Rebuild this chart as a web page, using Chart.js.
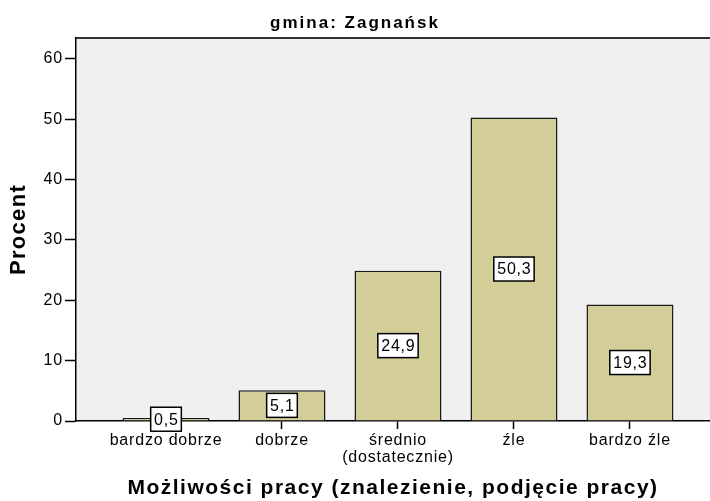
<!DOCTYPE html>
<html>
<head>
<meta charset="utf-8">
<script src="https://cdn.jsdelivr.net/npm/chart.js@4.4.0/dist/chart.umd.min.js"></script>
<style>
    html, body { margin: 0; padding: 0; background: #fff; overflow: hidden; }
</style>
</head>
<body>
<canvas id="chart" width="710" height="501"></canvas>
<script>
// gmina: Zagnańsk - Możliwości pracy
const categories = ['bardzo dobrze', 'dobrze', ['średnio', '(dostatecznie)'], 'źle', 'bardzo źle'];
const percents = [0.5, 5.1, 24.9, 50.3, 19.3];
const yTicks = [0, 10, 20, 30, 40, 50, 60];

const FONT = '"Liberation Sans", Arial, Helvetica, sans-serif';
Chart.defaults.font.family = FONT;
Chart.defaults.color = '#000';

const fmt = v => v.toFixed(1).replace('.', ',');

// SPSS export text is spaced wider than Arial, so add letter spacing by font size
const SPACING = { 16: 0.8, 17: 2, 21: 1.5, 22: 1.3 };
function spacingFor(font) {
    const m = /(\d+(?:\.\d+)?)px/.exec(font);
    return m ? (SPACING[m[1]] || 0) : 0;
}

const spacedText = {
    id: 'spacedText',
    beforeInit(chart) {
        const ctx = chart.ctx;
        const fill = ctx.fillText.bind(ctx);
        ctx.fillText = (t, x, y, mw) => {
            ctx.letterSpacing = spacingFor(ctx.font) + 'px';
            if (mw === undefined) fill(t, x, y); else fill(t, x, y, mw);
            ctx.letterSpacing = '0px';
        };
    }
};

const plotBackground = {
    id: 'plotBackground',
    beforeDraw(chart) {
        const { ctx, chartArea: a } = chart;
        ctx.save();
        ctx.fillStyle = '#f0f0f0';
        ctx.fillRect(a.left, a.top, a.right - a.left, a.bottom - a.top);
        ctx.strokeStyle = '#333';
        ctx.lineWidth = 2;
        ctx.beginPath();
        ctx.moveTo(a.left, a.top);
        ctx.lineTo(a.right, a.top);
        ctx.stroke();
        ctx.restore();
    }
};

const valueBoxes = {
    id: 'valueBoxes',
    afterDatasetsDraw(chart) {
        const { ctx } = chart;
        const meta = chart.getDatasetMeta(0);
        ctx.save();
        ctx.font = '16px ' + FONT;
        ctx.textAlign = 'center';
        ctx.textBaseline = 'middle';
        meta.data.forEach((bar, i) => {
            const text = fmt(percents[i]);
            ctx.letterSpacing = '0.8px';
            const w = ctx.measureText(text).width + 6;
            const h = 24;
            const cy = (bar.y + bar.base) / 2;
            ctx.fillStyle = '#fff';
            ctx.fillRect(bar.x - w / 2, cy - h / 2, w, h);
            ctx.strokeStyle = '#000';
            ctx.lineWidth = 1.5;
            ctx.strokeRect(bar.x - w / 2, cy - h / 2, w, h);
            ctx.fillStyle = '#000';
            ctx.fillText(text, bar.x + 0.4, cy + 1);
        });
        ctx.restore();
    }
};

new Chart(document.getElementById('chart'), {
    type: 'bar',
    data: {
        datasets: [{
            data: percents.map((v, i) => ({ x: i, y: v })),
            backgroundColor: 'rgb(211, 206, 151)',
            borderColor: '#1a1a1a',
            borderWidth: 1.5,
            categoryPercentage: 1.0,
            barPercentage: 0.75
        }]
    },
    options: {
        responsive: false,
        animation: false,
        layout: { padding: 0 },
        plugins: {
            legend: { display: false },
            tooltip: { enabled: false },
            title: {
                display: true,
                text: 'gmina: Zagnańsk',
                font: { size: 17, weight: 'bold' },
                color: '#000',
                padding: { top: 13, bottom: 4.6 }
            }
        },
        scales: {
            x: {
                type: 'linear',
                offset: false,
                min: -0.776,
                max: 4.69,
                afterFit: s => { s.height = 80; },
                afterBuildTicks: s => { s.ticks = categories.map((c, i) => ({ value: i })); },
                ticks: {
                    autoSkip: false,
                    maxRotation: 0,
                    padding: 3.5,
                    font: { size: 16, lineHeight: 1.05 },
                    callback: v => categories[v]
                },
                grid: { offset: false, drawOnChartArea: false, tickLength: 8, tickColor: '#000', tickWidth: 1.5 },
                border: { color: '#000', width: 1.5 },
                title: {
                    display: true,
                    text: 'Możliwości pracy (znalezienie, podjęcie pracy)',
                    font: { size: 21, weight: 'bold' },
                    color: '#000',
                    padding: { top: 4, bottom: 0 }
                }
            },
            y: {
                min: 0,
                max: 63.48,
                afterFit: s => { s.width = 76; },
                afterBuildTicks: s => { s.ticks = yTicks.map(v => ({ value: v })); },
                ticks: { padding: 2, font: { size: 16 } },
                grid: { drawOnChartArea: false, tickLength: 11, tickColor: '#000', tickWidth: 1.5 },
                border: { color: '#000', width: 1.5 },
                title: {
                    display: true,
                    text: 'Procent',
                    font: { size: 22, weight: 'bold' },
                    color: '#000',
                    padding: { top: 6, bottom: 0 }
                }
            }
        }
    },
    plugins: [spacedText, plotBackground, valueBoxes]
});
</script>
</body>
</html>
